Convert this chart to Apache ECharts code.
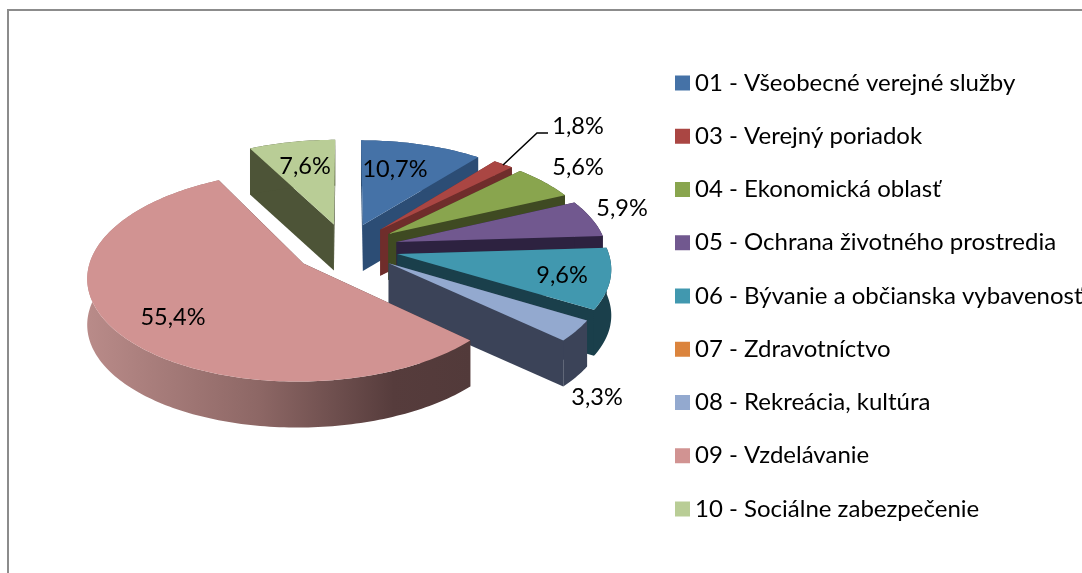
<!DOCTYPE html>
<html>
<head>
<meta charset="utf-8">
<script src="https://cdn.jsdelivr.net/npm/echarts@6/dist/echarts.min.js"></script>
<style>
  html, body { margin: 0; padding: 0; background: #fff; }
  #chart { width: 1082px; height: 573px; }
</style>
</head>
<body>
<div id="chart"></div>
<script>
const categories = [
  '01 - Všeobecné verejné služby',
  '03 - Verejný poriadok',
  '04 - Ekonomická oblasť',
  '05 - Ochrana životného prostredia',
  '06 - Bývanie a občianska vybavenosť',
  '07 - Zdravotníctvo',
  '08 - Rekreácia, kultúra',
  '09 - Vzdelávanie',
  '10 - Sociálne zabezpečenie'
]
const values = [10.7, 1.8, 5.6, 5.9, 9.6, 0, 3.3, 55.4, 7.6]

const topColors = ['#4572a7', '#aa4643', '#89a54e', '#71588f', '#4198af', '#db843d', '#93a9cf', '#d19392', '#b9cd96']
const wallColors = ['#2c4d75', '#6f2d2b', '#3f4a22', '#2d2240', '#1a3f4b', '#8f5526', '#3b4358', '#523a3a', '#4d5437']
const drawOrder = [2, 3, 4, 5, 6, 7, 8, 9, 1]
// label centres, picked by hand like the spreadsheet's best fit placement
const labelCentres = [[395, 169], [578, 126], [578, 167], [622, 208], [562, 275], null, [597, 397], [173, 317], [305, 166]]
const leaderLine = [[503, 165], [537, 133], [548, 133]]

const FONT = 'Lato, Carlito, sans-serif'
const centre = [346, 248]
const radiusX = 210
const radiusY = 100
const perspective = 0.12
const explode = 0.25
const depth = 46

const total = values.reduce((a, b) => a + b, 0)
const startAngles = values.map((_, i) =>
  values.slice(0, i).reduce((a, b) => a + b, 0) / total * Math.PI * 2)

// disc coordinates (u to the right, v towards the viewer) to screen
function project(u, v) {
  const s = 1 / (1 - perspective * v)
  return [centre[0] + radiusX * u * s, centre[1] + radiusY * v * s]
}

function lower(p) {
  return [p[0], p[1] + depth]
}

function slicePoint(index, angle, r) {
  const mid = startAngles[index] + values[index] / total * Math.PI
  const u = explode * Math.sin(mid) + r * Math.sin(angle)
  const v = -explode * Math.cos(mid) - r * Math.cos(angle)
  return project(u, v)
}

function wallFill(index) {
  if (index !== 7) return wallColors[index]
  return new echarts.graphic.LinearGradient(0, 0, 1, 0, [
    { offset: 0, color: '#b98b89' },
    { offset: 0.45, color: '#8d6765' },
    { offset: 0.8, color: '#563c3c' },
    { offset: 1, color: '#523a3a' }
  ])
}

function renderSlice(index, api) {
  const value = api.value(0)
  if (!value) return { type: 'group', children: [] }

  const start = startAngles[index]
  const end = start + value / total * Math.PI * 2
  const steps = Math.max(2, Math.ceil((end - start) / 0.02))
  const rim = []
  for (let i = 0; i <= steps; i++) {
    rim.push(slicePoint(index, start + (end - start) * i / steps, 1))
  }
  const apex = slicePoint(index, start, 0)
  const first = rim[0]
  const last = rim[rim.length - 1]

  const poly = (points, fill) => ({
    type: 'polygon',
    shape: { points },
    style: { fill, stroke: null }
  })

  const children = [
    poly([apex, first, lower(first), lower(apex)], wallColors[index]),
    poly([apex, last, lower(last), lower(apex)], wallColors[index]),
    poly(rim.concat(rim.map(lower).reverse()), wallFill(index)),
    poly([apex].concat(rim), topColors[index])
  ]

  if (index === 1) {
    children.push({
      type: 'polyline',
      shape: { points: leaderLine },
      style: { fill: null, stroke: '#000', lineWidth: 1.5 }
    })
  }

  children.push({
    type: 'text',
    style: {
      x: labelCentres[index][0],
      y: labelCentres[index][1],
      text: value.toFixed(1).replace('.', ',') + '%',
      fill: '#000',
      font: '23.5px ' + FONT,
      align: 'center',
      verticalAlign: 'middle'
    }
  })

  return { type: 'group', children }
}

const chart = echarts.init(document.getElementById('chart'))

chart.setOption({
  animation: false,
  backgroundColor: '#fff',
  legend: {
    orient: 'vertical',
    left: 675,
    top: 71,
    padding: 0,
    icon: 'rect',
    itemWidth: 15,
    itemHeight: 15,
    itemGap: 29.25,
    selectedMode: false,
    data: categories,
    textStyle: { fontFamily: FONT, fontSize: 24, color: '#000' }
  },
  graphic: [{
    type: 'polyline',
    silent: true,
    shape: { points: [[8, 573], [8, 10], [1082, 10]] },
    style: { fill: null, stroke: '#8c8c8c', lineWidth: 2 }
  }],
  series: categories.map((name, i) => ({
    type: 'custom',
    name,
    coordinateSystem: 'none',
    z: drawOrder[i] + 2,
    silent: true,
    itemStyle: { color: topColors[i] },
    data: [[values[i]]],
    renderItem: (params, api) => renderSlice(i, api)
  }))
})
</script>
</body>
</html>
